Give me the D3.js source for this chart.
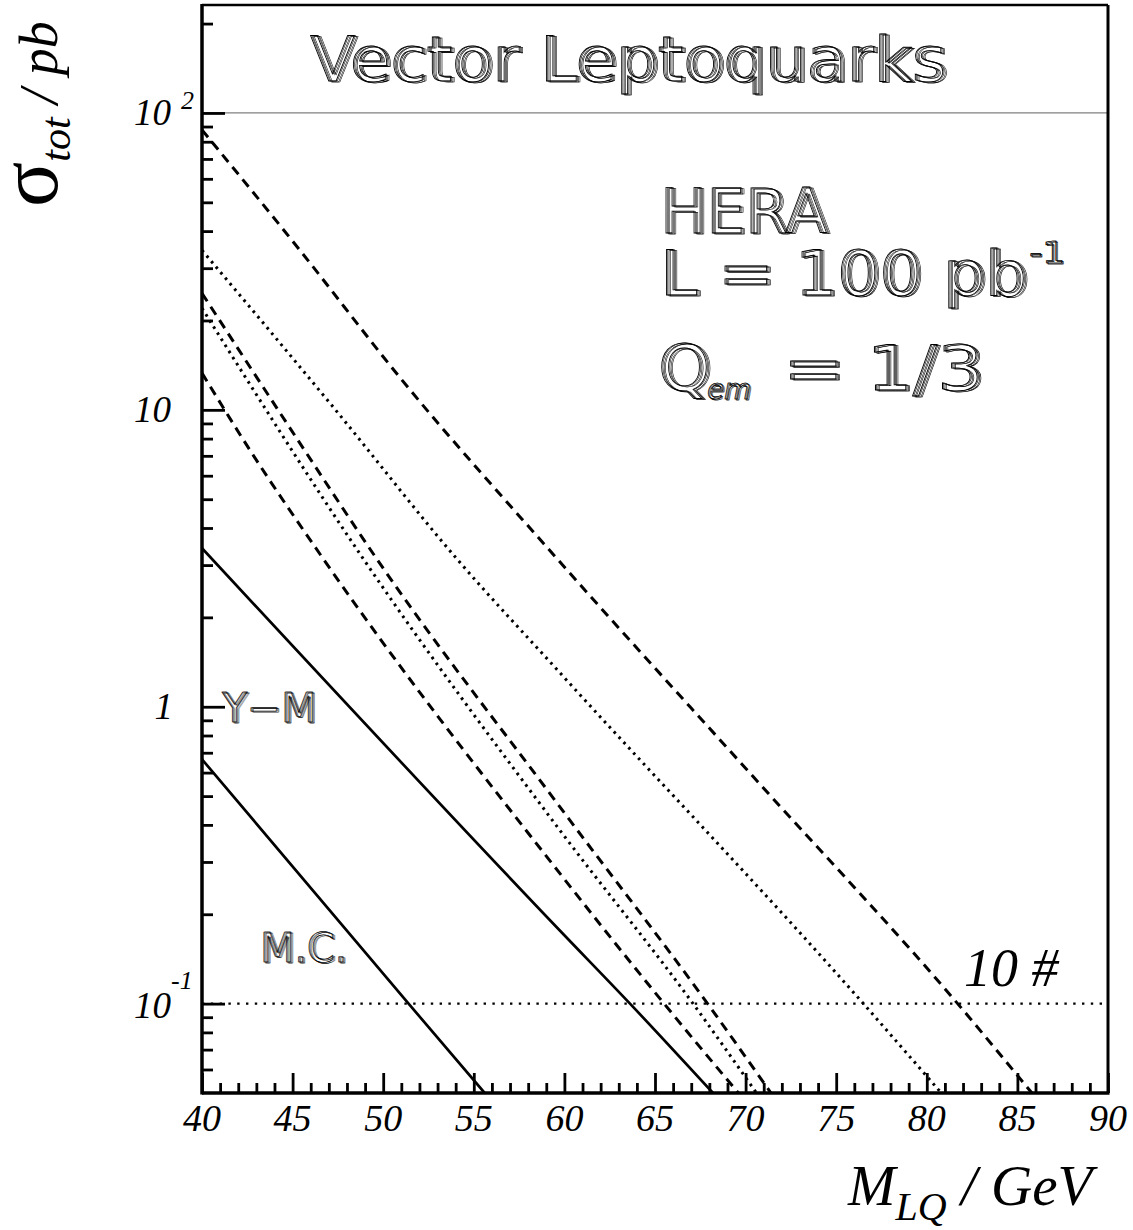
<!DOCTYPE html>
<html>
<head>
<meta charset="utf-8">
<script src="https://cdn.jsdelivr.net/npm/d3@7"></script>
<style>
body { margin: 0; background: #fff; }
</style>
</head>
<body>
<svg id="chart" width="1133" height="1230"></svg>
<script>
// cross sections, [M_LQ in GeV, sigma_tot in pb]
var dashedTop = [[40, 87.7], [45.4, 34.5], [50.9, 12.9], [59.6, 3.15], [70.5, 0.574], [81.7, 0.1], [85.8, 0.05]];
var dottedTop = [[40, 34.5], [47.25, 10.2], [54.06, 3.15], [59.76, 1.30], [76.5, 0.1], [80.8, 0.05]];
var dashedMid = [[40, 24.7], [45.41, 7.71], [49.64, 3.15], [59.76, 0.459], [67.9, 0.1], [71.4, 0.05]];
var dottedMid = [[40, 22.0], [48.9, 3.15], [59.76, 0.383], [67.1, 0.1], [70.6, 0.05]];
var dashedLow = [[40, 13.3], [42.65, 7.31], [46.69, 3.15], [59.76, 0.274], [65.5, 0.1], [69.6, 0.05]];
var solidYM = [[40, 3.42], [59.76, 0.176], [63.62, 0.1], [68.2, 0.05]];
var solidMC = [[40, 0.665], [51.4, 0.1], [55.6, 0.05]];
var tenEvents = 0.1;

var massTicks = [40, 45, 50, 55, 60, 65, 70, 75, 80, 85, 90];
var sigmaMajor = [0.1, 1, 10, 100];
var sigmaLabels = [["10", "-1"], ["1", ""], ["10", ""], ["10", "2"]];
var sigmaMinor = [0.06, 0.07, 0.08, 0.09, 0.2, 0.3, 0.4, 0.5, 0.6, 0.7, 0.8, 0.9,
                  2, 3, 4, 5, 6, 7, 8, 9, 20, 30, 40, 50, 60, 70, 80, 90, 200];

var padL = 202, padR = 1108, padT = 5, padB = 1093;
var serif = "'Liberation Serif', 'Times New Roman', serif";
var sans = "'DejaVu Sans', sans-serif";

var svg = d3.select("#chart");

var x = d3.scaleLinear().domain([40, 90]).range([padL, padR]);
var y = d3.scaleLog().domain([0.05, 231]).range([padB, padT]);

svg.append("clipPath").attr("id", "plot")
	.append("rect")
		.attr("x", padL).attr("y", padT)
		.attr("width", padR - padL).attr("height", padB - padT);

// title separator at 10^2
svg.append("line")
	.attr("x1", padL).attr("x2", padR)
	.attr("y1", y(100)).attr("y2", y(100))
	.attr("stroke", "#808080")
	.attr("stroke-width", 1.3);

// 10 events line
svg.append("line")
	.attr("x1", padL).attr("x2", padR)
	.attr("y1", y(tenEvents)).attr("y2", y(tenEvents))
	.attr("stroke", "#000")
	.attr("stroke-width", 2.4)
	.attr("stroke-dasharray", "2.4,6.4");

var curves = [
	{data: dashedTop, dash: "9.5,6.5"},
	{data: dottedTop, dash: "2.6,4.6"},
	{data: dashedMid, dash: "9.5,6.5"},
	{data: dottedMid, dash: "2.6,4.6"},
	{data: dashedLow, dash: "9.5,6.5"},
	{data: solidYM, dash: null},
	{data: solidMC, dash: null}
];

var line = d3.line()
	.x(function(d) { return x(d[0]); })
	.y(function(d) { return y(d[1]); })
	.curve(d3.curveMonotoneX);

svg.append("g").attr("clip-path", "url(#plot)")
	.selectAll("path")
	.data(curves)
	.enter().append("path")
		.attr("d", function(c) { return line(c.data); })
		.attr("fill", "none")
		.attr("stroke", "#000")
		.attr("stroke-width", function(c) { return c.dash ? 3 : 2.7; })
		.attr("stroke-dasharray", function(c) { return c.dash; });

// axes: ticks point inwards
svg.append("g")
	.attr("transform", "translate(0," + padB + ")")
	.call(d3.axisBottom(x).tickValues(d3.range(41, 90).filter(function(m) { return m % 5; }))
		.tickSize(-10).tickFormat(""))
	.call(function(g) { g.select(".domain").remove(); })
	.selectAll("line").attr("stroke-width", 2.8);

svg.append("g")
	.attr("transform", "translate(0," + padB + ")")
	.call(d3.axisBottom(x).tickValues(massTicks).tickSize(-20).tickFormat(""))
	.call(function(g) { g.select(".domain").remove(); })
	.selectAll("line").attr("stroke-width", 2.8);

svg.append("g")
	.attr("transform", "translate(" + padL + ",0)")
	.call(d3.axisLeft(y).tickValues(sigmaMinor).tickSize(-11).tickFormat(""))
	.call(function(g) { g.select(".domain").remove(); })
	.selectAll("line").attr("stroke-width", 2.8);

svg.append("g")
	.attr("transform", "translate(" + padL + ",0)")
	.call(d3.axisLeft(y).tickValues(sigmaMajor).tickSize(-23).tickFormat(""))
	.call(function(g) { g.select(".domain").remove(); })
	.selectAll("line").attr("stroke-width", 2.8);

// frame
svg.append("line").attr("x1", padL).attr("x2", padR).attr("y1", padT).attr("y2", padT)
	.attr("stroke", "#000").attr("stroke-width", 2.5);
svg.append("line").attr("x1", padR).attr("x2", padR).attr("y1", padT).attr("y2", padB)
	.attr("stroke", "#000").attr("stroke-width", 3);
svg.append("line").attr("x1", padL).attr("x2", padL).attr("y1", padT - 1).attr("y2", padB + 1.5)
	.attr("stroke", "#000").attr("stroke-width", 3.5);
svg.append("line").attr("x1", padL).attr("x2", padR + 1.5).attr("y1", padB).attr("y2", padB)
	.attr("stroke", "#000").attr("stroke-width", 3.5);

// tick labels
svg.append("g").selectAll("text")
	.data(massTicks)
	.enter().append("text")
		.attr("x", function(d) { return x(d); })
		.attr("y", 1131)
		.attr("text-anchor", "middle")
		.attr("font-family", serif)
		.attr("font-style", "italic")
		.attr("font-size", 38)
		.text(function(d) { return d; });

var yl = svg.append("g")
	.attr("font-family", serif)
	.attr("font-style", "italic");
sigmaMajor.forEach(function(v, i) {
	var lab = sigmaLabels[i];
	var base = y(v) + (v < 0.5 ? 14 : 12);
	yl.append("text")
		.attr("x", lab[0] == "1" ? 173 : 171)
		.attr("y", base)
		.attr("text-anchor", "end")
		.attr("font-size", 37)
		.text(lab[0]);
	if (lab[1]) {
		yl.append("text")
			.attr("x", lab[1] == "2" ? 181 : 171)
			.attr("y", lab[1] == "2" ? y(v) - 4 : y(v) - 15)
			.attr("font-size", 26)
			.text(lab[1]);
	}
});

// axis titles
var yt = svg.append("text")
	.attr("transform", "translate(57,207) rotate(-90)")
	.attr("font-family", serif);
yt.append("tspan").attr("font-size", 84).text("σ");
yt.append("tspan").attr("font-size", 42).attr("font-style", "italic").attr("dy", 13).text("tot");
yt.append("tspan").attr("font-size", 54).attr("font-style", "italic").attr("dy", -13).text(" / pb");

var xt = svg.append("text")
	.attr("x", 848).attr("y", 1205)
	.attr("font-family", serif)
	.attr("font-style", "italic");
xt.append("tspan").attr("font-size", 57).text("M");
xt.append("tspan").attr("font-size", 40).attr("dy", 15).text("LQ");
xt.append("tspan").attr("font-size", 57).attr("dy", -15).text(" / GeV");

svg.append("text")
	.attr("x", 964).attr("y", 986)
	.attr("font-family", serif)
	.attr("font-style", "italic")
	.attr("font-size", 54)
	.text("10 #");

// shaded (hatched) lettering
function hatched(txt, px, py, size, len, extra) {
	var g = svg.append("g");
	var w = size > 45 ? 0.55 : 0.4;
	[3, 2, 1, 0].forEach(function(i) {
		var t = g.append("text")
			.attr("x", px + i * size / 50)
			.attr("y", py + i * 0.3)
			.attr("font-family", sans)
			.attr("font-size", size)
			.attr("fill", "none")
			.attr("stroke", "#000")
			.attr("stroke-width", i == 0 ? w + 0.3 : w)
			.text(txt);
		if (len) t.attr("textLength", len).attr("lengthAdjust", "spacingAndGlyphs");
		if (extra) extra(t);
	});
	return g;
}

hatched("Vector Leptoquarks", 310, 81, 62, 636);
hatched("HERA", 660, 233, 62, 167);
hatched("L = 100 pb", 660, 295, 62, 367);
hatched("-1", 1029, 263, 30, 36);
hatched("Q", 658, 390, 64, 52);
hatched("em", 707, 399, 28, 44, function(t) { t.attr("font-style", "italic"); });
hatched("= 1/3", 783, 390, 62, 200);
hatched("Y−M", 222, 722, 40, 94);
hatched("M.C.", 260, 962, 40, 87);
</script>
</body>
</html>
